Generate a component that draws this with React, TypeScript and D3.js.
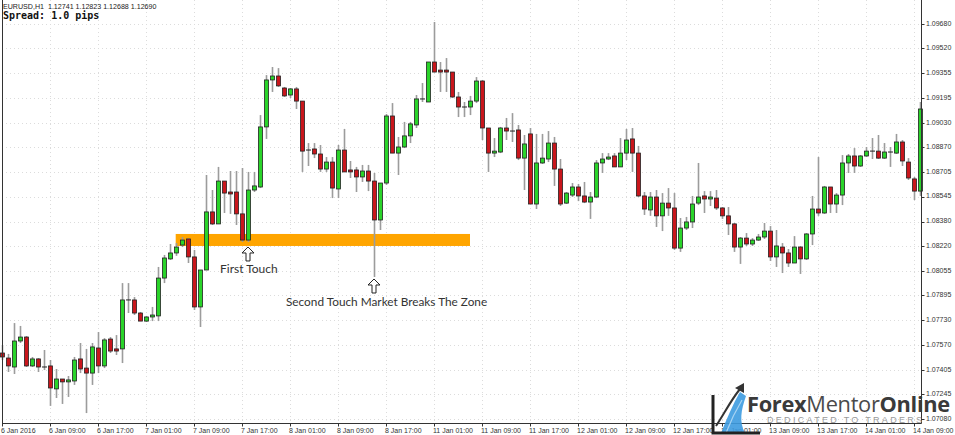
import React from 'react';
import * as d3 from 'd3';

const W = 955;
const H = 435;

const opens = [1.07516,1.07483,1.07424,1.07595,1.07621,1.07431,1.07477,1.07424,1.07431,1.07280,1.07345,1.07326,1.07332,1.07477,1.07417,1.07384,1.07549,1.07431,1.07608,1.07543,1.07543,1.07865,1.07865,1.07779,1.07726,1.07753,1.07760,1.08009,1.08135,1.08174,1.08226,1.08266,1.08148,1.07819,1.08062,1.08444,1.08365,1.08647,1.08575,1.08575,1.08431,1.08259,1.08588,1.08608,1.09003,1.09312,1.09338,1.09259,1.09213,1.09253,1.09173,1.08851,1.08858,1.08825,1.08726,1.08772,1.08595,1.08851,1.08720,1.08720,1.08674,1.08713,1.08647,1.08391,1.08634,1.09075,1.08831,1.08871,1.08944,1.09016,1.09187,1.09167,1.09430,1.09377,1.09377,1.09364,1.09200,1.09134,1.09134,1.09173,1.09305,1.08996,1.08831,1.08838,1.08996,1.08976,1.08983,1.08798,1.08957,1.08496,1.08766,1.08792,1.08897,1.08726,1.08502,1.08555,1.08608,1.08549,1.08509,1.08542,1.08766,1.08792,1.08812,1.08740,1.08831,1.08924,1.08831,1.08549,1.08457,1.08542,1.08418,1.08502,1.08470,1.08206,1.08338,1.08378,1.08502,1.08549,1.08529,1.08535,1.08470,1.08418,1.08365,1.08213,1.08272,1.08233,1.08259,1.08279,1.08318,1.08148,1.08213,1.08174,1.08108,1.08213,1.08135,1.08299,1.08463,1.08437,1.08608,1.08496,1.08555,1.08766,1.08812,1.08746,1.08812,1.08844,1.08844,1.08798,1.08838,1.08831,1.08904,1.08772,1.08661,1.08581];
const highs = [1.07569,1.07510,1.07713,1.07694,1.07628,1.07490,1.07483,1.07536,1.07470,1.07411,1.07345,1.07365,1.07490,1.07582,1.07543,1.07582,1.07654,1.07614,1.07621,1.07634,1.07976,1.07976,1.07884,1.07786,1.07760,1.07819,1.08082,1.08161,1.08233,1.08239,1.08279,1.08272,1.08194,1.08062,1.08687,1.08588,1.08740,1.08647,1.08713,1.08713,1.08733,1.08707,1.08707,1.09081,1.09344,1.09397,1.09390,1.09266,1.09259,1.09266,1.09173,1.08897,1.08897,1.08884,1.08805,1.08805,1.08884,1.08990,1.08779,1.08740,1.08753,1.08753,1.08700,1.08634,1.09088,1.09160,1.08937,1.09036,1.09036,1.09213,1.09292,1.09430,1.09693,1.09430,1.09456,1.09364,1.09233,1.09167,1.09207,1.09331,1.09312,1.08996,1.08930,1.09003,1.09062,1.09094,1.09016,1.08950,1.08996,1.08957,1.08957,1.08976,1.08937,1.08792,1.08575,1.08634,1.08628,1.08641,1.08575,1.08785,1.08831,1.08831,1.08831,1.08930,1.08990,1.08996,1.08878,1.08575,1.08575,1.08588,1.08568,1.08601,1.08568,1.08404,1.08411,1.08549,1.08766,1.08581,1.08581,1.08588,1.08476,1.08476,1.08371,1.08279,1.08305,1.08272,1.08299,1.08371,1.08351,1.08325,1.08239,1.08200,1.08285,1.08220,1.08305,1.08549,1.08805,1.08615,1.08608,1.08568,1.08818,1.08825,1.08864,1.08818,1.08871,1.08930,1.08950,1.08897,1.08871,1.08957,1.08917,1.08798,1.08674,1.09167];
const lows = [1.07470,1.07391,1.07378,1.07582,1.07424,1.07424,1.07391,1.07404,1.07168,1.07220,1.07181,1.07227,1.07306,1.07384,1.07121,1.07306,1.07384,1.07417,1.07516,1.07503,1.07450,1.07779,1.07766,1.07726,1.07720,1.07726,1.07726,1.07976,1.08128,1.08155,1.08213,1.08108,1.07799,1.07687,1.08062,1.08358,1.08365,1.08437,1.08431,1.08358,1.08246,1.08246,1.08575,1.08601,1.08924,1.09233,1.09266,1.09200,1.09193,1.09121,1.08707,1.08746,1.08798,1.08707,1.08707,1.08535,1.08535,1.08707,1.08667,1.08575,1.08641,1.08581,1.08016,1.08325,1.08621,1.08831,1.08687,1.08864,1.08897,1.08996,1.09167,1.09167,1.09364,1.09233,1.09233,1.09193,1.09068,1.09068,1.09081,1.09160,1.08917,1.08707,1.08805,1.08831,1.08917,1.08904,1.08785,1.08588,1.08496,1.08463,1.08759,1.08772,1.08615,1.08483,1.08496,1.08542,1.08515,1.08502,1.08398,1.08535,1.08700,1.08785,1.08740,1.08740,1.08785,1.08707,1.08542,1.08424,1.08418,1.08345,1.08318,1.08418,1.08194,1.08181,1.08325,1.08338,1.08489,1.08437,1.08483,1.08457,1.08398,1.08292,1.08181,1.08102,1.08220,1.08220,1.08253,1.08266,1.08121,1.08082,1.08042,1.08082,1.08108,1.08036,1.08128,1.08226,1.08418,1.08431,1.08437,1.08437,1.08489,1.08700,1.08700,1.08740,1.08805,1.08792,1.08792,1.08792,1.08740,1.08825,1.08746,1.08654,1.08522,1.08549];
const closes = [1.07490,1.07431,1.07595,1.07621,1.07431,1.07477,1.07424,1.07424,1.07286,1.07345,1.07326,1.07339,1.07470,1.07411,1.07384,1.07556,1.07431,1.07602,1.07529,1.07529,1.07865,1.07865,1.07779,1.07726,1.07753,1.07766,1.08009,1.08141,1.08174,1.08213,1.08259,1.08148,1.07819,1.08062,1.08444,1.08365,1.08647,1.08568,1.08562,1.08431,1.08259,1.08588,1.08615,1.09003,1.09312,1.09338,1.09273,1.09207,1.09253,1.09173,1.08844,1.08851,1.08825,1.08726,1.08772,1.08601,1.08851,1.08707,1.08707,1.08674,1.08713,1.08647,1.08391,1.08634,1.09075,1.08831,1.08871,1.08944,1.09023,1.09187,1.09187,1.09430,1.09364,1.09364,1.09364,1.09200,1.09134,1.09134,1.09173,1.09305,1.08996,1.08831,1.08844,1.08996,1.08976,1.08976,1.08798,1.08891,1.08496,1.08766,1.08798,1.08897,1.08726,1.08496,1.08568,1.08608,1.08549,1.08509,1.08542,1.08766,1.08792,1.08805,1.08740,1.08831,1.08917,1.08831,1.08549,1.08463,1.08542,1.08418,1.08502,1.08470,1.08206,1.08338,1.08378,1.08496,1.08542,1.08529,1.08542,1.08470,1.08418,1.08365,1.08213,1.08272,1.08233,1.08259,1.08279,1.08318,1.08148,1.08220,1.08174,1.08108,1.08213,1.08135,1.08299,1.08463,1.08437,1.08608,1.08496,1.08555,1.08766,1.08812,1.08746,1.08812,1.08844,1.08844,1.08798,1.08838,1.08838,1.08904,1.08779,1.08667,1.08581,1.09121];

const xLabels = ['6 Jan 2016','6 Jan 09:00','6 Jan 17:00','7 Jan 01:00','7 Jan 09:00','7 Jan 17:00','8 Jan 01:00','8 Jan 09:00','8 Jan 17:00','11 Jan 01:00','11 Jan 09:00','11 Jan 17:00','12 Jan 01:00','12 Jan 09:00','12 Jan 17:00','13 Jan 01:00','13 Jan 09:00','13 Jan 17:00','14 Jan 01:00','14 Jan 09:00'];
const barsPerLabel = 8;
const yTicks = [1.09680,1.09520,1.09355,1.09195,1.09030,1.08870,1.08705,1.08545,1.08380,1.08220,1.08055,1.07895,1.07730,1.07570,1.07405,1.07245,1.07080];

const zoneLow = 1.08220;
const zoneHigh = 1.08299;
const zoneFrom = 28.95;
const zoneTo = 78;

const firstTouchIdx = 41;
const secondTouchIdx = 62;

const headerText = 'EURUSD,H1  1.12741 1.12823 1.12688 1.12690';
const spreadText = 'Spread: 1.0 pips';

const GREEN = '#2ad42a';
const RED = '#c9161c';

export default function App() {
  const n = opens.length;
  const x = d3.scaleLinear().domain([0, n - 1]).range([2, 920]);
  const y = d3.scaleLinear().domain([1.0708, 1.0968]).range([419.3, 24]);
  const plotRight = 921.5;
  const plotBottom = 423.5;

  const arrow = (tx: number, ty: number) =>
    `M${tx},${ty} L${tx + 6},${ty + 6} L${tx + 2},${ty + 6} L${tx + 2},${ty + 14} L${tx - 2},${ty + 14} L${tx - 2},${ty + 6} L${tx - 6},${ty + 6} Z`;

  const ft = { x: x(firstTouchIdx), y: y(zoneLow) + 1 };
  const st = { x: x(secondTouchIdx), y: y(lows[secondTouchIdx]) + 2 };

  return (
    <svg width={W} height={H} style={{ position: 'absolute', left: 0, top: 0, background: '#fff' }} xmlns="http://www.w3.org/2000/svg">
      <rect x={0} y={0} width={W} height={H} fill="#fff" />
      {/* grid */}
      <g stroke="#dcdcdc" strokeWidth={1} strokeDasharray="1 3">
        {yTicks.map((t, i) => (
          <line key={'gy' + i} x1={2} x2={plotRight} y1={Math.round(y(t)) + 0.5} y2={Math.round(y(t)) + 0.5} />
        ))}
        {xLabels.map((l, i) => (
          <line key={'gx' + i} x1={x(i * barsPerLabel) + 0.5} x2={x(i * barsPerLabel) + 0.5} y1={0} y2={plotBottom} />
        ))}
      </g>
      {/* zone */}
      <rect x={x(zoneFrom)} y={y(zoneHigh)} width={x(zoneTo) - x(zoneFrom)} height={y(zoneLow) - y(zoneHigh)} fill="#ffa500" />
      {/* candles */}
      <g>
        {opens.map((o, i) => {
          const c = closes[i];
          const cx = Math.round(x(i)) + 0.5;
          const top = y(Math.max(o, c));
          const bot = y(Math.min(o, c));
          const fill = c > o ? GREEN : c < o ? RED : '#222';
          return (
            <g key={i}>
              <line x1={cx} x2={cx} y1={y(highs[i])} y2={y(lows[i])} stroke="#9c9c9c" strokeWidth={1.6} />
              {c === o ? (
                <line x1={cx - 2.5} x2={cx + 2.5} y1={top} y2={top} stroke="#222" strokeWidth={1} />
              ) : (
                <rect x={cx - 2} y={top} width={4} height={Math.max(1, bot - top)} fill={fill} stroke="#222" strokeWidth={0.8} />
              )}
            </g>
          );
        })}
      </g>
      {/* frame */}
      <g stroke="#333" strokeWidth={1} fill="none">
        <line x1={2.5} x2={2.5} y1={0} y2={plotBottom} />
        <line x1={2} x2={plotRight} y1={plotBottom} y2={plotBottom} />
        <line x1={plotRight} x2={plotRight} y1={0} y2={plotBottom} />
      </g>
      {/* y axis */}
      <g fontFamily="'Liberation Sans', Arial, sans-serif" fontSize={7} fill="#333">
        {yTicks.map((t, i) => (
          <g key={'yt' + i}>
            <line x1={plotRight} x2={plotRight + 3} y1={Math.round(y(t)) + 0.5} y2={Math.round(y(t)) + 0.5} stroke="#333" />
            <text x={926} y={y(t)} dominantBaseline="middle">{t.toFixed(5)}</text>
          </g>
        ))}
      </g>
      {/* x axis */}
      <g fontFamily="'Liberation Sans', Arial, sans-serif" fontSize={7} fill="#333">
        {xLabels.map((l, i) => (
          <g key={'xt' + i}>
            <line x1={x(i * barsPerLabel) + 0.5} x2={x(i * barsPerLabel) + 0.5} y1={plotBottom} y2={plotBottom + 3} stroke="#333" />
            <text x={x(i * barsPerLabel) - 1} y={433}>{l}</text>
          </g>
        ))}
      </g>
      {/* header */}
      <text x={3} y={9} fontFamily="'Liberation Sans', Arial, sans-serif" fontSize={7.1} fill="#222" xmlSpace="preserve">{headerText}</text>
      <text x={3} y={19} fontFamily="'DejaVu Sans Mono', monospace" fontWeight="bold" fontSize={10} fill="#111">{spreadText}</text>
      {/* annotations */}
      <path d={arrow(ft.x, ft.y)} fill="#fff" stroke="#222" strokeWidth={1} />
      <text x={ft.x - 28} y={273} fontFamily="Lato, 'Open Sans', sans-serif" fontSize={12} fill="#333">First Touch</text>
      <path d={arrow(st.x, st.y)} fill="#fff" stroke="#222" strokeWidth={1} />
      <text x={st.x - 88} y={306} fontFamily="Lato, 'Open Sans', sans-serif" fontSize={11.8} fill="#333">Second Touch Market Breaks The Zone</text>
      {/* logo */}
      <g>
        <path d="M721,433 C727,418 733,404 740,392 L746,396 C741,410 739,422 745,433 Z" fill="#3d9be0" opacity={0.9} />
        <path d="M726,433 C731,420 736,410 742,400" stroke="#a8d4f3" strokeWidth={1.2} fill="none" />
        <path d="M716,426 C724,414 731,400 740,389" stroke="#333" strokeWidth={2} fill="none" />
        <path d="M744,383 L735,388 L744,393 Z" fill="#333" />
        <path d="M713,395 L713,433 L760,433" stroke="#222" strokeWidth={3} fill="none" />
        <text x={747} y={412} fontFamily="'Open Sans', 'Liberation Sans', sans-serif" fontSize={21.8} fill="#3a3a3a" letterSpacing={-0.3}>
          <tspan fontWeight="bold">Forex</tspan>
          <tspan fontWeight="normal" fill="#4a4a4a">Mentor</tspan>
          <tspan fontWeight="bold">Online</tspan>
        </text>
        <text x={767} y={423} fontFamily="'Liberation Sans', Arial, sans-serif" fontSize={9} fill="#9a9a9a" letterSpacing={2.3}>DEDICATED TO TRADERS</text>
      </g>
    </svg>
  );
}
